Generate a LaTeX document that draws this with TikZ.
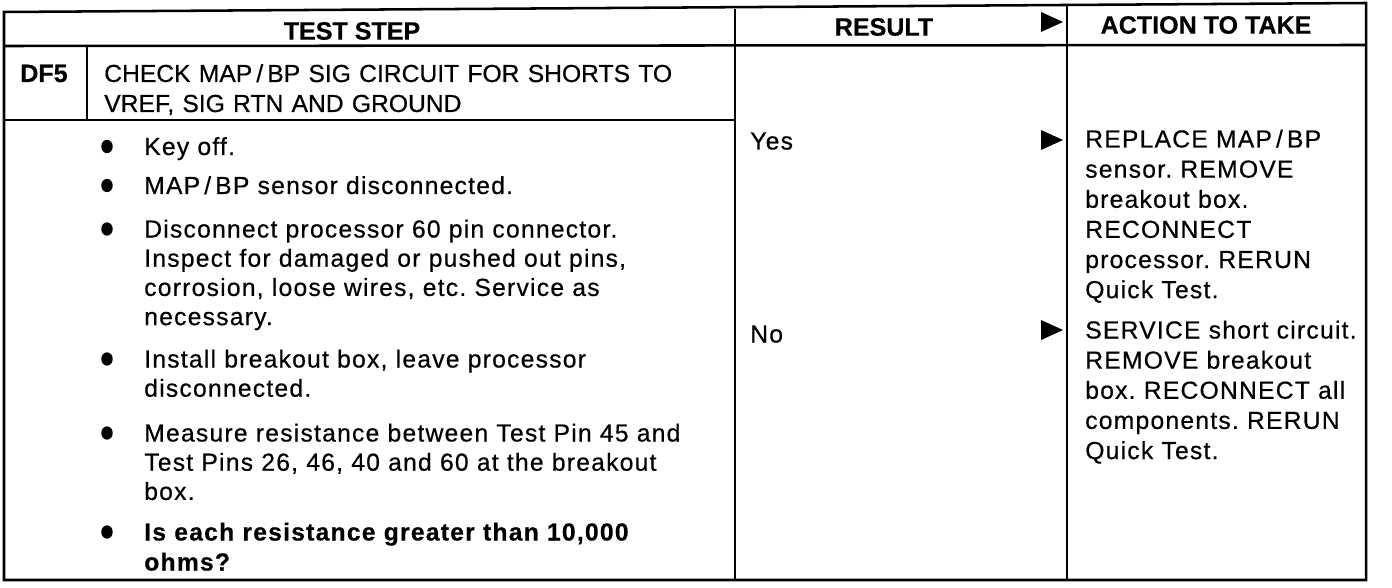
\documentclass[tikz,border=0pt]{standalone}
\usepackage{fontspec}
\usetikzlibrary{shapes.geometric}
\setmainfont{Liberation Sans}
\newfontfamily\bodyf[LetterSpace=5,FakeBold=0.5]{Liberation Sans}
\newfontfamily\capf[FakeBold=0.5]{Liberation Sans}
\newfontfamily\hdrf[FakeBold=0.4]{Liberation Sans}
\newcommand\ptri[2]{\fill (#1-10,#2-10) -- (#1+12,#2) -- (#1-10,#2+10) -- cycle;}
\frenchspacing
\begin{document}
\begin{tikzpicture}[x=0.75pt,y=-0.75pt,
  rule/.style={line width=1.9pt},
  hdr/.style={inner sep=0pt,font=\hdrf\bfseries\fontsize{18.8}{22}\selectfont},
  body/.style={anchor=base west,inner sep=0pt,align=left,text width=#1,
     font=\bodyf\fontsize{18.5}{21.9}\selectfont},
  body/.default=450pt,
  act/.style={anchor=base west,inner sep=0pt,align=left,text width=217pt,
     font=\bodyf\fontsize{18.5}{22.6}\selectfont},
  bul/.style={fill,ellipse,inner sep=0pt,minimum width=8.6pt,minimum height=10pt}]
\useasboundingbox (0,0) rectangle (1392,588);
% grid coordinates
\coordinate (tl) at (4,12);
\coordinate (tr) at (1366,3);
\coordinate (br) at (1366,580);
\coordinate (bl) at (4,580);
\coordinate (hl) at (4,46);
\coordinate (hr) at (1366,45);
\coordinate (c1t) at (735,9);
\coordinate (c1b) at (735,580);
\coordinate (c2t) at (1067,5);
\coordinate (c2b) at (1067,580);
\coordinate (d1) at (87,46);
\coordinate (d2) at (87,120);
\coordinate (rl) at (4,120);
\coordinate (rr) at (735,120);
\draw[rule] (tl) -- (tr) -- (br) -- (bl) -- cycle;
\draw[rule] (hl) -- (hr);
\draw[rule] (c1t) -- (c1b);
\draw[rule] (c2t) -- (c2b);
\draw[rule] (d1) -- (d2);
\draw[rule] (rl) -- (rr);
% header
\node[hdr] (h1) at (352,31) {TEST STEP};
\node[hdr] (h2) at (884,27) {RESULT};
\node[hdr] (h3) at (1206,25) {ACTION TO TAKE};
\ptri{1051}{22}
% DF5 row
\node[hdr,anchor=base west] (df) at (20,82) {DF5};
\node[anchor=base west,inner sep=0pt,align=left,text width=472pt,
  font=\capf\fontsize{18.5}{22.5}\selectfont] (chk) at (104,82)
  {CHECK MAP\,/\,BP SIG CIRCUIT FOR SHORTS TO\\VREF, SIG RTN AND GROUND};
% bullets
\node[body] (p1) at (144,155) {Key off.};
\node[body] (p2) at (144,194) {MAP\,/\,BP sensor disconnected.};
\node[body] (p3) at (144,237.5) {Disconnect processor 60 pin connector.\\Inspect for damaged or pushed out pins,\\corrosion, loose wires, etc. Service as\\necessary.};
\node[body] (p4) at (144,367.5) {Install breakout box, leave processor\\disconnected.};
\node[body] (p5) at (144,441.5) {Measure resistance between Test Pin 45 and\\Test Pins 26, 46, 40 and 60 at the breakout\\box.};
\node[body,font=\bodyf\bfseries\fontsize{18.5}{22.5}\selectfont] (p6) at (144,540.5) {Is each resistance greater than 10,000\\ohms?};
\foreach \y/\n in {155/b1,194/b2,237.5/b3,367.5/b4,441.5/b5,540.5/b6}
  \node[bul] (\n) at (107,\y-8.5) {};
% result
\node[body=75pt] (yes) at (750,149.5) {Yes};
\node[body=75pt] (no) at (750,342.5) {No};
\ptri{1051}{140}
\ptri{1051}{330}
% action
\node[act] (a1) at (1085,147.5) {REPLACE MAP\,/\,BP\\sensor. REMOVE\\breakout box.\\RECONNECT\\processor. RERUN\\Quick Test.};
\node[act] (a2) at (1085,338.5) {SERVICE short circuit.\\REMOVE breakout\\box. RECONNECT all\\components. RERUN\\Quick Test.};
\end{tikzpicture}
\end{document}
